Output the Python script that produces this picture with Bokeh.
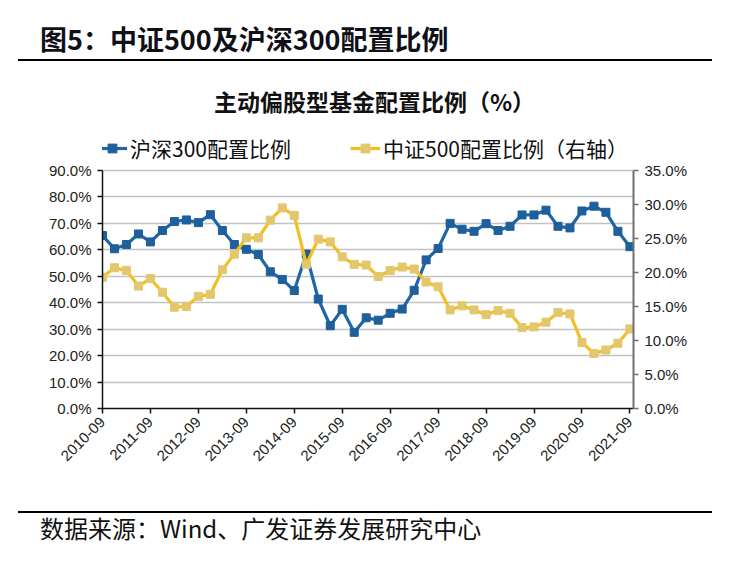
from math import pi
from bokeh.plotting import figure
from bokeh.layouts import column
from bokeh.models import (Range1d, LinearAxis, FixedTicker, SingleIntervalTicker,
                          PrintfTickFormatter, Label, Legend, LegendItem, Div)
from bokeh.embed import file_html
from bokeh.resources import INLINE

# ---------------- data ----------------
year_labels = ["2010-09", "2011-09", "2012-09", "2013-09", "2014-09", "2015-09",
               "2016-09", "2017-09", "2018-09", "2019-09", "2020-09", "2021-09"]
# quarterly points, 2010-09 ... 2021-09 (45 quarters), x = quarter index
hs300 = [65.4, 60.4, 62.0, 66.0, 63.0, 67.3, 70.7, 71.3, 70.3, 73.3,
         67.3, 62.0, 60.2, 58.2, 51.7, 48.8, 44.6, 58.4, 41.4, 31.3,
         37.5, 28.8, 34.3, 33.4, 36.0, 37.6, 44.7, 56.2, 60.5, 70.0,
         67.8, 67.0, 69.9, 67.3, 68.9, 73.2, 73.2, 75.0, 68.9, 68.3,
         74.7, 76.5, 74.2, 67.0, 61.2]
zz500 = [19.3, 20.7, 20.3, 18.0, 19.1, 17.1, 14.9, 15.0, 16.5, 16.8,
         20.4, 22.7, 25.1, 25.1, 27.7, 29.5, 28.4, 21.2, 24.9, 24.5,
         22.3, 21.2, 21.1, 19.4, 20.3, 20.8, 20.5, 18.6, 17.9, 14.5,
         15.1, 14.5, 13.8, 14.4, 14.0, 11.9, 12.0, 12.7, 14.1, 13.9,
         9.7, 8.1, 8.6, 9.6, 11.7]
quarter_idx = list(range(len(hs300)))

header = "图5：中证500及沪深300配置比例"
chart_title = "主动偏股型基金配置比例（%）"
name_hs300 = "沪深300配置比例"
name_zz500 = "中证500配置比例（右轴）"
source = "数据来源：Wind、广发证券发展研究中心"

BLUE = "#1F66A6"
BLUE_M = "#1E5F9C"
YEL = "#F4BF1E"
YEL_M = "#E3C76C"
CJK = "Noto Sans CJK SC"
LAT = "Liberation Sans"

PAGE_W = 730
HEAD_H, FIG_H, FOOT_H = 80, 420, 69

# page layout (px)
FL, FR = 102, 633          # frame left/right
Y0_PX, Y90_PX = 408, 170   # page y of 0% and 90%
ML, MR = FL, PAGE_W - FR
MT = 0
MB = HEAD_H + FIG_H - Y0_PX
X1 = 44.3
LEFT_TOP = 90 * (Y0_PX - HEAD_H) / (Y0_PX - Y90_PX)
RIGHT_TOP = 35 * (Y0_PX - HEAD_H) / (Y0_PX - Y90_PX)

p = figure(width=PAGE_W, height=FIG_H, output_backend="svg", toolbar_location=None,
           x_range=Range1d(0, X1), y_range=Range1d(0, LEFT_TOP), margin=0,
           min_border_left=ML, min_border_right=MR, min_border_top=MT, min_border_bottom=MB,
           outline_line_color=None, background_fill_color="white", border_fill_color="white")
p.extra_y_ranges = {"right": Range1d(0, RIGHT_TOP)}

def dx(px):
    return (px - FL) / (FR - FL) * X1
def dy(py):
    return (Y0_PX - py) / (Y0_PX - Y90_PX) * 90

# grid
p.xgrid.grid_line_color = None
p.ygrid.grid_line_color = "#C3C3C3"
p.ygrid.grid_line_width = 1.5
p.ygrid.bounds = (0, 90)

# left axis
p.yaxis.ticker = SingleIntervalTicker(interval=10)
p.yaxis.formatter = PrintfTickFormatter(format="%.1f%%")
p.yaxis.bounds = (0, 90)
# bottom axis
p.xaxis.ticker = FixedTicker(ticks=[4 * i for i in range(len(year_labels))])
p.xaxis.major_label_overrides = {4 * i: lab for i, lab in enumerate(year_labels)}
p.xaxis.major_label_orientation = pi / 4

ax_r = LinearAxis(y_range_name="right", ticker=SingleIntervalTicker(interval=5),
                  formatter=PrintfTickFormatter(format="%.1f%%"), bounds=(0, 35))
p.add_layout(ax_r, "right")

for ax in [p.xaxis[0], p.yaxis[0], ax_r]:
    ax.axis_line_color = "#111111"
    ax.axis_line_width = 1.5
    ax.major_tick_line_color = "#111111"
    ax.major_tick_line_width = 1.5
    ax.major_tick_out = 5
    ax.major_tick_in = 0
    ax.minor_tick_line_color = None
    ax.major_label_text_font = LAT
    ax.major_label_text_font_size = "15px"
    ax.major_label_text_color = "#222222"
    ax.major_label_standoff = 6
ax_r.axis_line_color = "#707070"
ax_r.axis_line_width = 2
ax_r.major_tick_line_color = "#707070"

# series
l1 = p.line(quarter_idx, hs300, line_color=BLUE, line_width=3.2)
s1 = p.scatter(quarter_idx, hs300, marker="square", size=8, fill_color=BLUE_M, line_color=BLUE_M)
l2 = p.line(quarter_idx, zz500, y_range_name="right", line_color=YEL, line_width=3.2)
s2 = p.scatter(quarter_idx, zz500, y_range_name="right", marker="square", size=8,
               fill_color=YEL_M, line_color=YEL_M)

# legends (inside the extended frame, above the 90% line)
def mk_legend(label, rends, x_px):
    lg = Legend(items=[LegendItem(label=label, renderers=rends)],
                location=(x_px - FL, Y0_PX - 163), orientation="horizontal",
                label_text_font=CJK, label_text_font_size="21px", label_text_color="#111111",
                glyph_width=30, glyph_height=22, label_height=22, label_standoff=3,
                padding=0, margin=0, border_line_color=None, background_fill_alpha=0)
    p.add_layout(lg, "center")
mk_legend(name_hs300, [l1, s1], 97)
mk_legend(name_zz500, [l2, s2], 350)

# chart title
p.add_layout(Label(x=dx(374), y=dy(100), text=chart_title, text_font=CJK, text_font_size="23px",
                   text_font_style="bold", text_color="#111111", text_baseline="middle",
                   text_align="center"))

head_div = Div(width=PAGE_W, height=HEAD_H, margin=0, text=(
    '<div style="position:relative;width:730px;height:80px;">'
    '<div style="position:absolute;left:40px;top:22px;font-family:\'Noto Sans CJK SC\';'
    'font-size:27px;font-weight:bold;line-height:34px;color:#101018;white-space:nowrap;">'
    + header + '</div>'
    '<div style="position:absolute;left:18px;top:59px;width:694px;height:1.6px;background:#000;"></div>'
    '</div>'))

foot_div = Div(width=PAGE_W, height=FOOT_H, margin=0, text=(
    '<div style="position:relative;width:730px;height:69px;">'
    '<div style="position:absolute;left:18px;top:11px;width:694px;height:1.6px;background:#000;"></div>'
    '<div style="position:absolute;left:40px;top:12px;font-family:\'Noto Sans CJK SC\';'
    'font-size:24px;line-height:32px;color:#111111;white-space:nowrap;">'
    + source + '</div>'
    '</div>'))

layout = column(head_div, p, foot_div, spacing=0, margin=0)
open("out.html", "w").write(file_html(layout, INLINE))
